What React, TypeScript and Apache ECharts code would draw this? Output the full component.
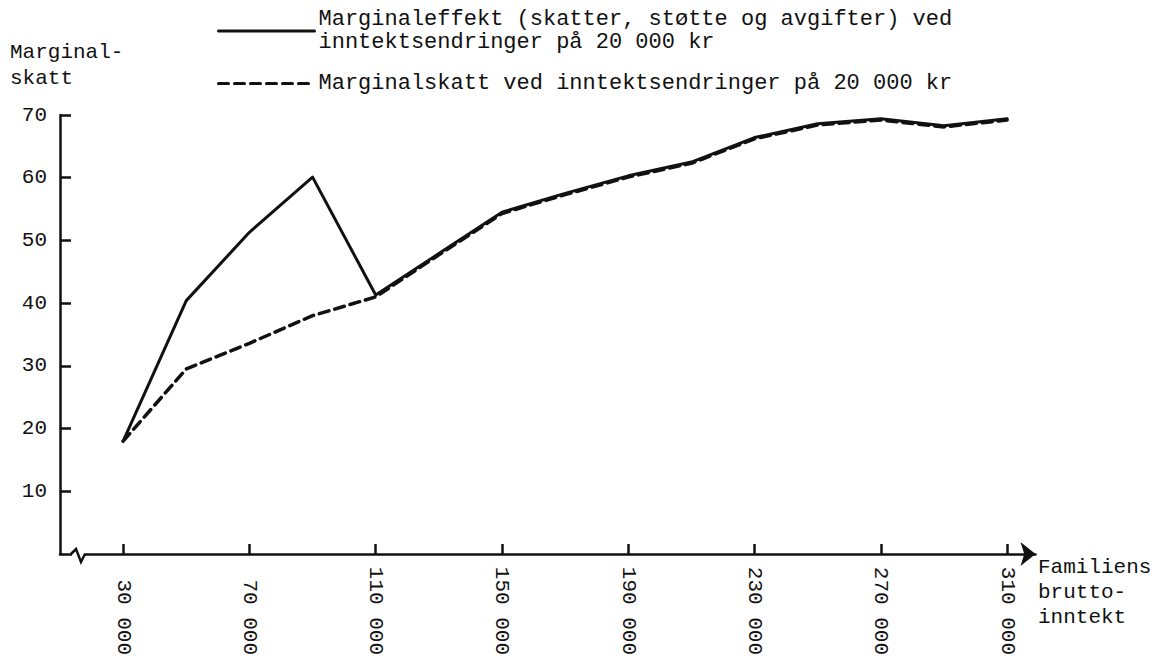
import React, { useEffect, useRef } from "react";
import * as echarts from "echarts";

// Family gross income (kr)
const incomes = [30000, 50000, 70000, 90000, 110000, 130000, 150000, 170000, 190000, 210000, 230000, 250000, 270000, 290000, 310000];
// Marginal effect (taxes, support and fees), %
const marginalEffect = [18, 40.4, 51.3, 60.1, 41.3, 47.9, 54.5, 57.5, 60.3, 62.5, 66.4, 68.6, 69.4, 68.3, 69.4];
// Marginal tax, %
const marginalTax = [18, 29.5, 33.6, 38.0, 41.0, 47.7, 54.3, 57.3, 60.1, 62.3, 66.2, 68.4, 69.2, 68.1, 69.2];
const xTickValues = [30000, 70000, 110000, 150000, 190000, 230000, 270000, 310000];
const yTickValues = [10, 20, 30, 40, 50, 60, 70];

const seriesNames = [
  "Marginaleffekt (skatter, støtte og avgifter) ved\ninntektsendringer på 20 000 kr",
  "Marginalskatt ved inntektsendringer på 20 000 kr",
];
const yTitle = "Marginal-\nskatt";
const xTitle = "Familiens\nbrutto-\ninntekt";

const FONT = "'Liberation Mono', 'DejaVu Sans Mono', monospace";
const INK = "#111";

export default function App() {
  const ref = useRef<HTMLDivElement>(null);
  useEffect(() => {
    if (!ref.current) return;
    const chart = echarts.init(ref.current, undefined, { renderer: "svg" });
    const pairs = (ys: number[]) => incomes.map((x, i) => [x, ys[i]]);
    chart.setOption({
      animation: false,
      backgroundColor: "#fff",
      textStyle: { fontFamily: FONT, color: INK },
      grid: { left: 60, top: 115, width: 975.5, height: 439 },
      legend: {
        left: 217,
        top: 8,
        padding: 0,
        orient: "vertical",
        itemWidth: 96,
        itemHeight: 14,
        itemGap: 18,
        itemStyle: { opacity: 0 },
        lineStyle: { width: 3 },
        textStyle: { fontFamily: FONT, fontSize: 22, lineHeight: 23, color: INK, padding: [0, 0, 0, -1] },
        data: seriesNames,
      },
      xAxis: {
        type: "value",
        min: 10000,
        max: 319000,
        splitLine: { show: false },
        axisLine: {
          lineStyle: { color: INK, width: 2.5 },
          symbol: ["none", "arrow"],
          symbolSize: [18, 15],
        },
        axisTick: { inside: true, length: 10, lineStyle: { color: INK, width: 2.5 }, customValues: xTickValues },
        axisLabel: {
          customValues: xTickValues,
          rotate: -90,
          align: "right",
          verticalAlign: "middle",
          margin: 101,
          fontFamily: FONT,
          fontSize: 21,
          color: INK,
          formatter: (v: number) => `${Math.round(v / 1000)} 000`,
        },
      },
      yAxis: {
        type: "value",
        min: 0,
        max: 70,
        interval: 10,
        splitLine: { show: false },
        axisLine: { show: true, lineStyle: { color: INK, width: 2.5 } },
        axisTick: { inside: true, length: 11, lineStyle: { color: INK, width: 2.5 }, customValues: yTickValues },
        axisLabel: {
          customValues: yTickValues,
          margin: 13,
          fontFamily: FONT,
          fontSize: 21,
          color: INK,
        },
      },
      series: [
        {
          name: seriesNames[1],
          type: "line",
          data: pairs(marginalTax),
          symbol: "none",
          z: 2,
          lineStyle: { color: INK, width: 3.5, type: [10, 6], cap: "round", join: "round" },
          itemStyle: { color: INK },
        },
        {
          name: seriesNames[0],
          type: "line",
          data: pairs(marginalEffect),
          symbol: "none",
          z: 3,
          lineStyle: { color: INK, width: 3, type: "solid", cap: "round", join: "round" },
          itemStyle: { color: INK },
        },
      ],
      graphic: [
        {
          type: "text",
          left: 10,
          top: 39,
          style: { text: yTitle, font: `21px ${FONT}`, fill: INK, lineHeight: 26 },
        },
        {
          type: "text",
          left: 1038,
          top: 555,
          style: { text: xTitle, font: `21px ${FONT}`, fill: INK, lineHeight: 25 },
        },
        {
          type: "rect",
          z: 100,
          shape: { x: 72, y: 550, width: 12, height: 8 },
          style: { fill: "#fff" },
        },
        {
          type: "polyline",
          z: 101,
          shape: { points: [[71, 554], [76, 549], [81, 562], [85, 554]] },
          style: { stroke: INK, lineWidth: 2.5, fill: "none" },
        },
      ],
    });
    return () => chart.dispose();
  }, []);
  return <div ref={ref} style={{ position: "fixed", left: 0, top: 0, width: 1165, height: 665 }} />;
}
